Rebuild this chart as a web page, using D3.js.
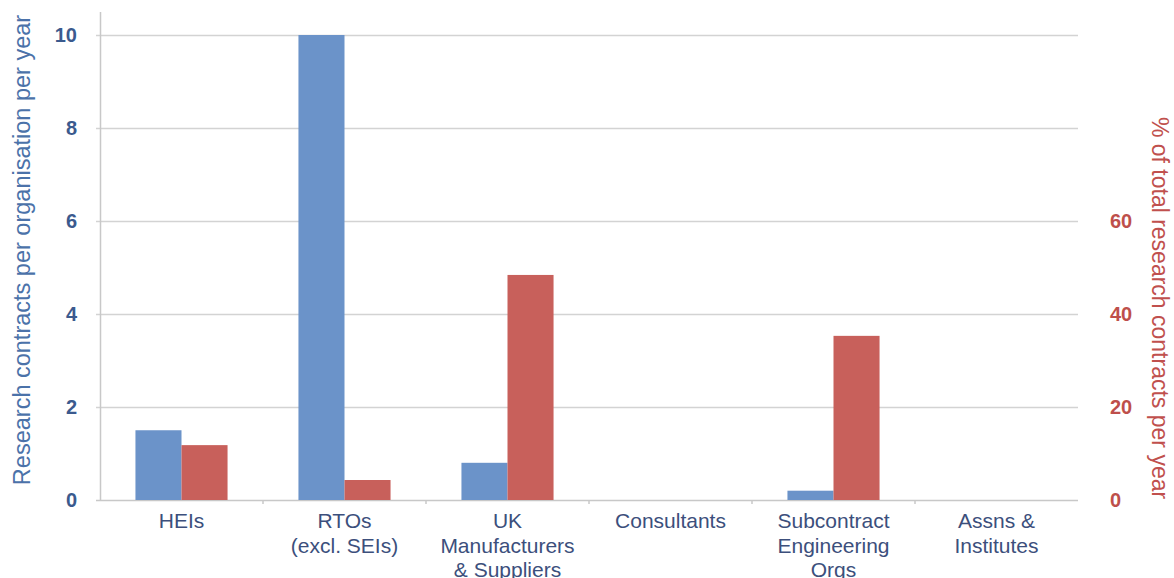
<!DOCTYPE html>
<html>
<head>
<meta charset="utf-8">
<script src="https://cdn.jsdelivr.net/npm/d3@7"></script>
<style>
  html, body { margin: 0; padding: 0; background: #fff; }
  svg { display: block; font-family: "Liberation Sans", Arial, Helvetica, sans-serif; }
</style>
</head>
<body>
<svg id="chart" width="1174" height="578"></svg>
<script>
// Organisation types (each label split into display lines)
const categories = [
  ["HEIs"],
  ["RTOs", "(excl. SEIs)"],
  ["UK", "Manufacturers", "& Suppliers"],
  ["Consultants"],
  ["Subcontract", "Engineering", "Orgs"],
  ["Assns &", "Institutes"]
];
// Research contracts per organisation per year (left axis)
const contractsPerOrg = [1.5, 10, 0.8, 0, 0.2, 0];
// % of total research contracts per year (right axis)
const pctOfTotal = [11.8, 4.3, 48.4, 0, 35.3, 0];
const leftTicks = [0, 2, 4, 6, 8, 10];
const rightTicks = [0, 20, 40, 60];

const svg = d3.select("#chart");
const x0 = 100, x1 = 1078, yBase = 500, yTop = 35;

const catKeys = categories.map(c => c.join(" "));
const x = d3.scaleBand().domain(catKeys).range([x0, x1])
  .paddingInner(0.435).paddingOuter(0.2175);
const xs = d3.scaleBand().domain(["left", "right"]).range([0, x.bandwidth()]);
const yL = d3.scaleLinear().domain([0, 10]).range([yBase, yTop]);
const yR = d3.scaleLinear().domain([0, 100]).range([yBase, yTop]);

const blue = "#6b93c9", red = "#c8605b";

// Horizontal gridlines
svg.append("g").selectAll("line").data(leftTicks.slice(1)).join("line")
  .attr("x1", x0 - 4).attr("x2", x1)
  .attr("y1", d => Math.round(yL(d)) + 0.5).attr("y2", d => Math.round(yL(d)) + 0.5)
  .attr("stroke", "#d3d3d3").attr("stroke-width", 1.5);

// Left axis line and baseline
svg.append("line").attr("x1", x0 + 0.5).attr("x2", x0 + 0.5).attr("y1", 12).attr("y2", yBase)
  .attr("stroke", "#c8c8c8").attr("stroke-width", 1.5);
svg.append("line").attr("x1", x0 - 4).attr("x2", x1).attr("y1", yBase + 0.5).attr("y2", yBase + 0.5)
  .attr("stroke", "#c8c8c8").attr("stroke-width", 1.5);

// Category boundary ticks
const step = x.step();
svg.append("g").selectAll("line").data(d3.range(1, categories.length)).join("line")
  .attr("x1", i => x0 + i * step).attr("x2", i => x0 + i * step)
  .attr("y1", yBase).attr("y2", yBase + 4)
  .attr("stroke", "#c8c8c8").attr("stroke-width", 1.5);

// Bars
const groups = svg.append("g").selectAll("g").data(catKeys).join("g")
  .attr("transform", d => `translate(${x(d)},0)`);
groups.append("rect")
  .attr("x", xs("left")).attr("width", xs.bandwidth())
  .attr("y", (d, i) => yL(contractsPerOrg[i]))
  .attr("height", (d, i) => yBase - yL(contractsPerOrg[i]))
  .attr("fill", blue);
groups.append("rect")
  .attr("x", xs("right")).attr("width", xs.bandwidth())
  .attr("y", (d, i) => yR(pctOfTotal[i]))
  .attr("height", (d, i) => yBase - yR(pctOfTotal[i]))
  .attr("fill", red);

// Left axis tick labels
const leftAxis = d3.axisLeft(yL).tickValues(leftTicks).tickSize(0).tickPadding(0);
const gl = svg.append("g").attr("transform", "translate(77,0)").call(leftAxis);
gl.select(".domain").remove();
gl.selectAll("text").attr("fill", "#3b5a8e").attr("font-size", 20).attr("font-weight", "bold")
  .attr("font-family", "Liberation Sans, Arial, sans-serif");

// Right axis tick labels
const rightAxis = d3.axisRight(yR).tickValues(rightTicks).tickSize(0).tickPadding(0);
const gr = svg.append("g").attr("transform", "translate(1110,0)").call(rightAxis);
gr.select(".domain").remove();
gr.selectAll("text").attr("fill", "#be4f4b").attr("font-size", 20).attr("font-weight", "bold")
  .attr("font-family", "Liberation Sans, Arial, sans-serif");

// Axis titles
svg.append("text")
  .attr("transform", "translate(30,250) rotate(-90)")
  .attr("text-anchor", "middle")
  .attr("fill", "#4b72a9").attr("font-size", 23.5)
  .text("Research contracts per organisation per year");
svg.append("text")
  .attr("transform", "translate(1152,308) rotate(90)")
  .attr("text-anchor", "middle")
  .attr("fill", "#c0504d").attr("font-size", 23)
  .text("% of total research contracts per year");

// Category labels
const lab = svg.append("g").selectAll("text").data(categories).join("text")
  .attr("text-anchor", "middle")
  .attr("fill", "#3c4f7c").attr("font-size", 21)
  .attr("x", (d, i) => x(catKeys[i]) + x.bandwidth() / 2)
  .attr("y", 528);
lab.selectAll("tspan").data(d => d).join("tspan")
  .attr("x", function () { return this.parentNode.getAttribute("x"); })
  .attr("dy", (d, i) => i === 0 ? 0 : 24.5)
  .text(d => d);
</script>
</body>
</html>
